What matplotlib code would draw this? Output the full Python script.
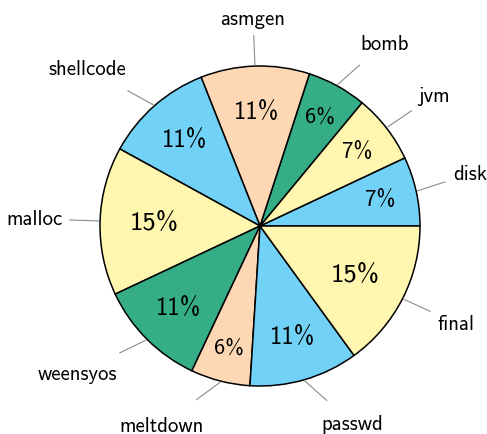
from pathlib import Path

import numpy as np
import matplotlib
import matplotlib.pyplot as plt
from matplotlib.font_manager import FontProperties

CMSS = Path(matplotlib.get_data_path()) / "fonts" / "ttf" / "cmss10.ttf"

LABELS = ["disk", "jvm", "bomb", "asmgen", "shellcode", "malloc",
          "weensyos", "meltdown", "passwd", "final"]
SHARES = [7, 7, 6, 11, 11, 15, 11, 6, 11, 15]

BLUE = "#72d1f6"
YELLOW = "#fff6b0"
GREEN = "#35ae87"
PEACH = "#fed8b5"
COLORS = [BLUE, YELLOW, GREEN, PEACH, BLUE, YELLOW, GREEN, PEACH, BLUE, YELLOW]


def main() -> None:
    fig = plt.figure(figsize=(4.87, 4.35), dpi=100)
    ax = fig.add_axes([0, 0, 1, 1])

    wedges, _ = ax.pie(
        SHARES,
        colors=COLORS,
        startangle=0,
        counterclock=True,
        radius=1.0,
        wedgeprops={"edgecolor": "black", "linewidth": 1.1},
    )
    ax.set_xlim(-260 / 160, (487 - 260) / 160)
    ax.set_ylim((227 - 435) / 160, 227 / 160)
    ax.set_aspect("auto")
    ax.axis("off")

    fig.canvas.draw()
    renderer = fig.canvas.get_renderer()
    inv = ax.transData.inverted()
    px = 1 / 160  # one pixel in data units

    for wedge, label, share in zip(wedges, LABELS, SHARES):
        mid = np.deg2rad((wedge.theta1 + wedge.theta2) / 2)
        c, s = np.cos(mid), np.sin(mid)

        # percentage inside the slice, bigger slices get bigger text
        pct_r = 0.86 - 0.013 * share
        ax.text(pct_r * c, pct_r * s, f"{share}%", ha="center", va="center",
                fontproperties=FontProperties(fname=CMSS, size=14 + 0.35 * share))

        # outside label, placed off the radial pin end
        txt = ax.text(0, 0, label, ha="center", va="center",
                      fontproperties=FontProperties(fname=CMSS, size=15))
        bb = txt.get_window_extent(renderer=renderer)
        w, h = inv.transform((bb.width, bb.height)) - inv.transform((0, 0))
        dx = np.sign(c) * (w / 2 + 9 * px) if abs(c) > 0.15 else c * w / 2
        dy = s * h / 2 + (8 * px * np.sign(s) if abs(s) > 0.15 else 0)
        cx, cy = 1.18 * c + dx, 1.18 * s + dy + 1 * px
        txt.set_position((cx, cy))

        # leader line from the slice edge toward the label
        x0, y0 = 1.01 * c, 1.01 * s
        vx, vy = cx - x0, cy - y0
        n = np.hypot(vx, vy)
        length = 0.18
        ax.plot([x0, x0 + vx / n * length], [y0, y0 + vy / n * length],
                color="#8c8c8c", linewidth=0.8)

    fig.savefig("out.png", dpi=100)
    plt.close(fig)


if __name__ == "__main__":
    main()
